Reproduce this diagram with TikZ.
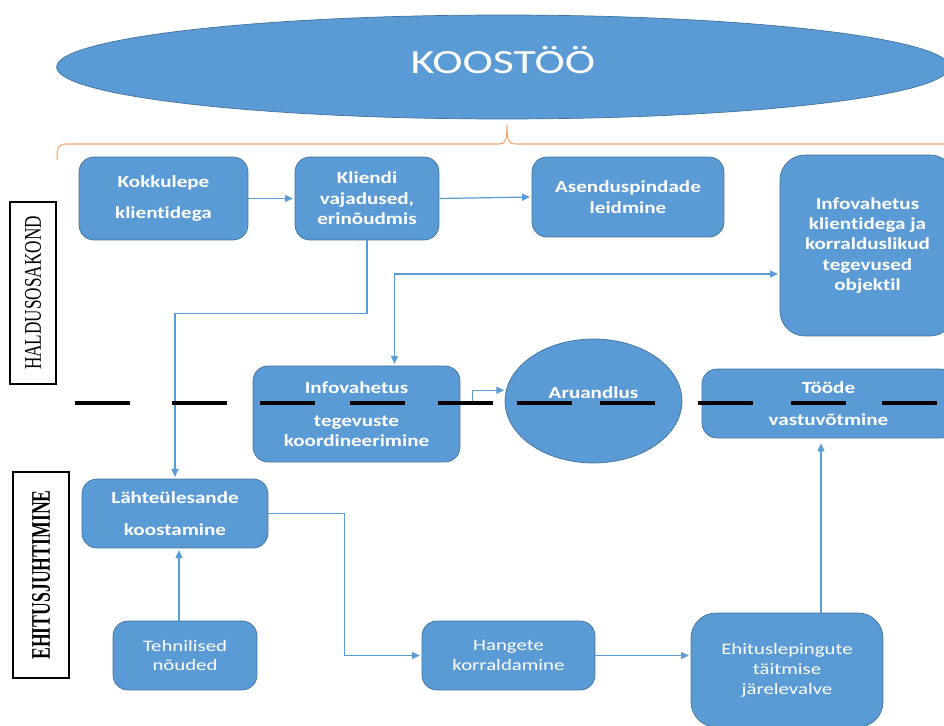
\documentclass[tikz,border=0pt]{standalone}
\usepackage{fontspec}
\usetikzlibrary{shapes.geometric,arrows.meta}
\newfontfamily\boxfont[FakeStretch=1.25,Ligatures=NoCommon]{Carlito}
\newfontfamily\lowfont[FakeStretch=1.3,Ligatures=NoCommon]{Carlito}
\newfontfamily\titlefont[FakeStretch=1.35]{Carlito}
\newfontfamily\sidefont[FakeStretch=0.72]{Liberation Serif}
\newfontfamily\sidefontb[FakeStretch=0.66]{Liberation Serif}
\definecolor{boxblue}{HTML}{5B9BD5}
\definecolor{boxedge}{HTML}{41719C}
\definecolor{linkblue}{HTML}{5B9BD5}
\definecolor{braceorange}{HTML}{F4A46C}

\begin{document}
\begin{tikzpicture}[x=0.02cm, y=-0.02cm,
        box/.style={draw=boxedge, line width=0.4pt, fill=boxblue, rounded corners=0.3cm, text=white, align=center, inner sep=2pt, font=\boxfont\bfseries\fontsize{9.6pt}{11.6pt}\selectfont},
        lowbox/.style={box, font=\lowfont\fontsize{9.1pt}{11.3pt}\selectfont},
        link/.style={draw=linkblue, line width=0.7pt, -{Triangle[length=4.5pt,width=4pt]}, shorten >=1pt},
        link2/.style={link, {Triangle[length=4.5pt,width=4pt]}-{Triangle[length=4.5pt,width=4pt]}, shorten <=1pt},
        divider/.style={black, line width=2.2pt},
        sidebox/.style={draw=black, line width=0.6pt, fill=white, inner sep=0pt}]
        \useasboundingbox (0,0) rectangle (944,726);
        \clip (0,0) rectangle (944,726);

        \node[ellipse, fill=boxblue, draw=boxedge, line width=0.4pt, minimum width=17.86cm, minimum height=2.08cm, text=white, font=\titlefont\fontsize{19.3pt}{20pt}\selectfont] (koostoo) at (503,67) {\raisebox{0.28cm}{KOOSTÖÖ}};
        \draw[braceorange, line width=0.6pt] (57,160) .. controls (57,148) and (58,144) .. (66,144) -- (499,144) .. controls (505,144) and (507,141) .. (507,125) .. controls (507,141) and (509,144) .. (515,144) -- (950,144);

        \node[sidebox, rotate=90, minimum width=3.64cm, minimum height=0.92cm, font=\sidefont\fontsize{13.6pt}{14pt}\selectfont] (hald) at (33,293) {HALDUSOSAKOND};
        \node[sidebox, rotate=90, minimum width=4.12cm, minimum height=1.12cm, font=\sidefontb\bfseries\fontsize{15.3pt}{16pt}\selectfont] (ehitus) at (41,575) {EHITUSJUHTIMINE};

        \node[box, minimum width=3.38cm, minimum height=1.66cm] (kokk) at (163.5,198.5) {Kokkulepe\\[6pt]klientidega};
        \node[box, minimum width=2.88cm, minimum height=1.66cm] (kliend) at (367,198.5) {Kliendi\\vajadused,\\erinõudmis};
        \node[box, minimum width=3.84cm, minimum height=1.6cm] (asend) at (628,197) {Asenduspindade\\leidmine};
        \node[box, rounded corners=0.5cm, minimum width=3.5cm, minimum height=3.62cm] (infokl) at (867.5,245.5) {Infovahetus\\klientidega ja\\korralduslikud\\tegevused\\objektil};
        \node[box, minimum width=4.14cm, minimum height=1.92cm] (infoteg) at (356.5,414) {Infovahetus\\[7pt]tegevuste\\koordineerimine};
        \node[box, ellipse, sharp corners, minimum width=3.54cm, minimum height=2.48cm] (aruand) at (593.5,401) {\raisebox{0.32cm}{Aruandlus}};
        \node[box, minimum width=5.06cm, minimum height=1.38cm] (toode) at (828.5,403.5) {Tööde\\[7pt]vastuvõtmine};
        \node[box, minimum width=3.72cm, minimum height=1.38cm] (lahte) at (175,513.5) {Lähteülesande\\[7pt]koostamine};
        \node[lowbox, minimum width=2.88cm, minimum height=1.38cm] (tehn) at (185,655.5) {Tehnilised\\nõuded};
        \node[lowbox, minimum width=3.46cm, minimum height=1.38cm] (hange) at (508.5,655.5) {Hangete\\korraldamine};
        \node[lowbox, rounded corners=0.5cm, minimum width=3.84cm, minimum height=2.28cm] (ehit) at (787,670) {Ehituslepingute\\täitmise\\järelevalve};

        \draw[link] (kokk) -- (kliend);
        \draw[link] (kliend.east) -- (asend.west);
        \draw[link] (kliend.south) -- ++(0,73) -| (lahte.north);
        \draw[link2] ([xshift=0.76cm]infoteg.north) |- ([yshift=-0.57cm]infokl.west);
        \draw[link] ([yshift=0.22cm]infoteg.east) -- ++(12,0) |- (aruand.173);
        \draw[link] (lahte.east) -- ++(76,0) |- (hange.west);
        \draw[link] ([xshift=-0.12cm]tehn.north) -- ([xshift=-0.12cm]tehn.north |- lahte.south);
        \draw[link] (hange.east) -- (hange.east -| ehit.west);
        \draw[link, shorten >=0.1cm] ([xshift=0.68cm]ehit.north) -- ([xshift=0.68cm]ehit.north |- toode.south);

        \foreach \x in {75,172,260,350,438,517,600,698,791,882}
            \draw[divider] (\x,403) -- ++(55,0);
\end{tikzpicture}
\end{document}
